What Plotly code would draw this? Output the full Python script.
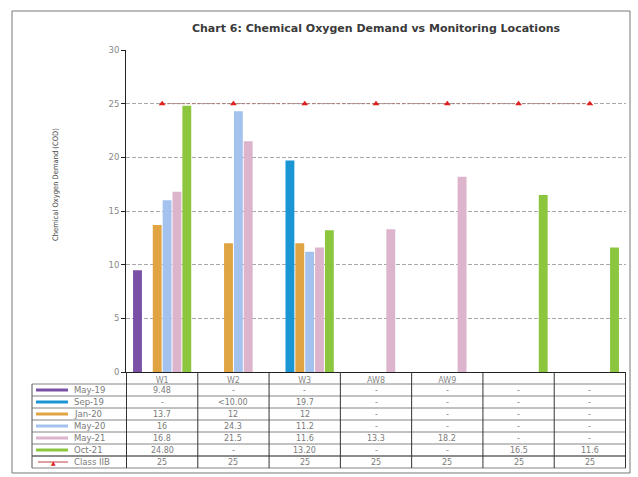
import plotly.graph_objects as go

# ---------------- data ----------------
location_ids = ["W1", "W2", "W3", "AW8", "AW9", "L6", "L7"]
location_labels = ["W1", "W2", "W3", "AW8", "AW9", "", ""]

series_names = ["May-19", "Sep-19", "Jan-20", "May-20", "May-21", "Oct-21"]
may19 = [9.48, None, None, None, None, None, None]
sep19 = [None, None, 19.7, None, None, None, None]
jan20 = [13.7, 12, 12, None, None, None, None]
may20 = [16, 24.3, 11.2, None, None, None, None]
may21 = [16.8, 21.5, 11.6, 13.3, 18.2, None, None]
oct21 = [24.80, None, 13.20, None, None, 16.5, 11.6]
class_iib = [25, 25, 25, 25, 25, 25, 25]

# table text as printed in the data table
may19_txt = ["9.48", "-", "-", "-", "-", "-", "-"]
sep19_txt = ["-", "<10.00", "19.7", "-", "-", "-", "-"]
jan20_txt = ["13.7", "12", "12", "-", "-", "-", "-"]
may20_txt = ["16", "24.3", "11.2", "-", "-", "-", "-"]
may21_txt = ["16.8", "21.5", "11.6", "13.3", "18.2", "-", "-"]
oct21_txt = ["24.80", "-", "13.20", "-", "-", "16.5", "11.6"]
class_txt = ["25", "25", "25", "25", "25", "25", "25"]

series_values = [may19, sep19, jan20, may20, may21, oct21]
series_texts = [may19_txt, sep19_txt, jan20_txt, may20_txt, may21_txt, oct21_txt]
series_colors = ["#7a4fa6", "#1b96d4", "#e0a443", "#a4c2ee", "#dcb4cc", "#8cc63e"]
class_name = "Class IIB"

# ---------------- layout geometry ----------------
W, H = 638, 477
ML, MR, MT, MB = 126, 12, 50, 105
PW, PH = W - ML - MR, H - MT - MB


def px_y(py):
    """pixel row (from top) -> paper y"""
    return (H - MB - py) / PH


def px_x(px):
    return (px - ML) / PW


fig = go.Figure()

for name, vals, col in zip(series_names, series_values, series_colors):
    fig.add_trace(go.Bar(x=location_ids, y=vals, name=name, marker_color=col,
                         marker_line_width=0, showlegend=False))

fig.add_trace(go.Scatter(x=location_ids, y=class_iib, name=class_name,
                         mode="lines+markers",
                         line=dict(color="#b07878", width=1, dash="3px,2px"),
                         marker=dict(symbol="triangle-up", size=6, color="#e0201c"),
                         showlegend=False))

shapes = []
annotations = []

# outer frame
shapes.append(dict(type="rect", xref="paper", yref="paper",
                   x0=px_x(12), x1=px_x(630), y0=px_y(473), y1=px_y(11),
                   line=dict(color="#777", width=1)))

# table geometry
axis_py = H - MB
header_h = 12
row_h = 12
n_rows = len(series_names) + 1
table_top = axis_py + header_h
table_bottom = table_top + n_rows * row_h
left_px = 32

# horizontal table lines
for k in range(n_rows + 1):
    py = table_top + k * row_h
    shapes.append(dict(type="line", xref="paper", yref="paper",
                       x0=px_x(left_px), x1=1, y0=px_y(py), y1=px_y(py),
                       line=dict(color="#666", width=1.4 if k == n_rows - 1 else 0.8)))
# vertical table lines at category boundaries
for i in range(len(location_ids) + 1):
    shapes.append(dict(type="line", xref="x", yref="paper",
                       x0=i - 0.5, x1=i - 0.5, y0=0, y1=px_y(table_bottom),
                       line=dict(color="#333", width=1)))
shapes.append(dict(type="line", xref="paper", yref="paper",
                   x0=px_x(left_px), x1=px_x(left_px),
                   y0=px_y(table_top), y1=px_y(table_bottom),
                   line=dict(color="#555", width=1)))

cell_font = dict(family="DejaVu Sans", size=8, color="#7a7a7a")

# series rows
all_names = series_names + [class_name]
all_texts = series_texts + [class_txt]
for r, (nm, txts) in enumerate(zip(all_names, all_texts)):
    cy = px_y(table_top + r * row_h + row_h / 2)
    # legend key
    if r < len(series_names):
        shapes.append(dict(type="line", xref="paper", yref="paper",
                           x0=px_x(36), x1=px_x(68), y0=cy, y1=cy,
                           line=dict(color=series_colors[r], width=3)))
    else:
        shapes.append(dict(type="line", xref="paper", yref="paper",
                           x0=px_x(38), x1=px_x(68), y0=cy, y1=cy,
                           line=dict(color="#c04040", width=1)))
        annotations.append(dict(xref="paper", yref="paper", x=px_x(53), y=cy,
                                text="▲", showarrow=False,
                                font=dict(size=6, color="#e0201c"),
                                xanchor="center", yanchor="middle"))
    annotations.append(dict(xref="paper", yref="paper", x=px_x(72), y=cy,
                            text=nm, showarrow=False,
                            font=dict(family="DejaVu Sans", size=8.5, color="#7a7a7a"),
                            xanchor="left", yanchor="middle"))
    for loc, t in zip(location_ids, txts):
        annotations.append(dict(xref="x", yref="paper", x=loc, y=cy, text=t,
                                showarrow=False, font=cell_font,
                                xanchor="center", yanchor="middle"))

# y axis title
annotations.append(dict(xref="paper", yref="paper", x=px_x(55), y=px_y(185),
                        text="Chemical Oxygen Demand (COD)", textangle=-90,
                        showarrow=False,
                        font=dict(family="DejaVu Sans Condensed, Liberation Sans", size=7.5,
                                  color="#444"),
                        xanchor="center", yanchor="middle"))

fig.update_layout(
    width=W, height=H, autosize=False,
    margin=dict(l=ML, r=MR, t=MT, b=MB),
    paper_bgcolor="white", plot_bgcolor="white",
    barmode="group", bargap=0.17, bargroupgap=0.1,
    title=dict(text="<b>Chart 6: Chemical Oxygen Demand vs Monitoring Locations</b>",
               x=0.5, xref="paper", xanchor="center",
               y=1 - 28 / H, yref="container", yanchor="middle",
               font=dict(family="DejaVu Sans", size=11, color="#3a3a3a")),
    xaxis=dict(type="category", categoryorder="array", categoryarray=location_ids,
               tickvals=location_ids, ticktext=location_labels,
               showline=True, linecolor="#222", linewidth=1, ticks="",
               showgrid=False, tickfont=dict(family="DejaVu Sans", size=8, color="#888")),
    yaxis=dict(range=[0, 30], dtick=5, showline=True, linecolor="#222", linewidth=1,
               ticks="outside", ticklen=4, tickcolor="#222",
               showgrid=True, gridcolor="#a8a8a8", gridwidth=1, griddash="4px,2px",
               zeroline=False,
               tickfont=dict(family="DejaVu Sans", size=8.5, color="#888")),
    shapes=shapes, annotations=annotations,
    font=dict(family="DejaVu Sans"),
)

fig.write_html("out.html")
